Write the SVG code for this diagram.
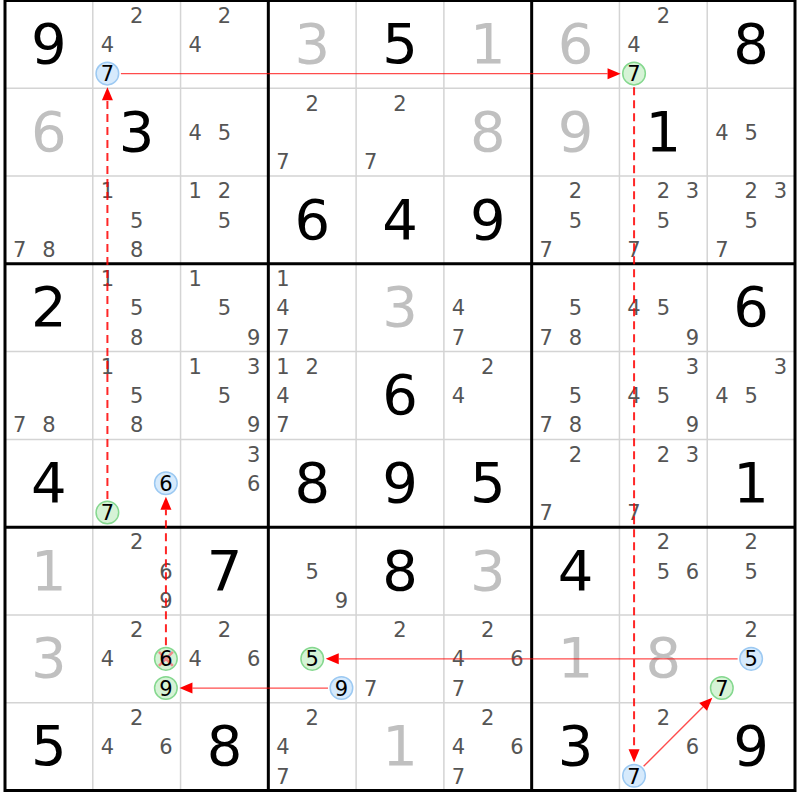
<svg xmlns="http://www.w3.org/2000/svg" width="800" height="800" viewBox="0 0 800 800">
<style>
text{font-family:"DejaVu Sans","Liberation Sans",sans-serif;text-anchor:middle}
.g{font-size:56px;fill:#000}
.s{font-size:56px;fill:#c0c0c0}
.c{font-size:21px;fill:#555}
.k{font-size:21px;fill:#000}
.thin{stroke:#d4d4d4;stroke-width:1.5}
.thick{stroke:#000;stroke-width:3;fill:none}
.cb{fill:#d6eafc;stroke:#9cc9f2;stroke-width:1.5}
.cg{fill:#d6f3d6;stroke:#85d88f;stroke-width:1.5}
.x{stroke:#f08a8a;stroke-width:2.5}
.sol{stroke:#ff0000;stroke-opacity:.7;stroke-width:1.4;fill:none;marker-end:url(#ah)}
.dash{stroke:#ff0000;stroke-opacity:.85;stroke-width:2;stroke-dasharray:8 5;fill:none;marker-end:url(#ah)}
</style>
<defs>
<marker id="ah" markerUnits="userSpaceOnUse" markerWidth="14" markerHeight="11" refX="0" refY="5.5" orient="auto" overflow="visible"><path d="M0,0L13,5.5L0,11z" fill="#f00"/></marker>
</defs>
<rect x="0" y="0" width="800" height="800" fill="#fff"/>
<g id="grid">
<path class="thin" d="M92.78,0.5V790.5M180.56,0.5V790.5M356.11,0.5V790.5M443.89,0.5V790.5M619.44,0.5V790.5M707.22,0.5V790.5M5,88.28H795M5,176.06H795M5,351.61H795M5,439.39H795M5,614.94H795M5,702.72H795"/>
<path class="thick" d="M268.33,0.5V790.5M531.67,0.5V790.5M5,263.83H795M5,527.17H795"/>
<rect class="thick" x="5" y="0.5" width="790" height="790"/>
</g>
<g id="cells">
<g id="r1c1" transform="translate(5,0.5)"><text class="g" x="43.9" y="62.5">9</text></g>
<g id="r1c2" transform="translate(92.78,0.5)"><text class="c" x="43.9" y="22.3">2</text><text class="c" x="14.6" y="51.5">4</text><circle class="cb" cx="14.6" cy="73.1" r="11.3"/><text class="k" x="14.6" y="80.8">7</text></g>
<g id="r1c3" transform="translate(180.56,0.5)"><text class="c" x="43.9" y="22.3">2</text><text class="c" x="14.6" y="51.5">4</text></g>
<g id="r1c4" transform="translate(268.33,0.5)"><text class="s" x="43.9" y="62.5">3</text></g>
<g id="r1c5" transform="translate(356.11,0.5)"><text class="g" x="43.9" y="62.5">5</text></g>
<g id="r1c6" transform="translate(443.89,0.5)"><text class="s" x="43.9" y="62.5">1</text></g>
<g id="r1c7" transform="translate(531.67,0.5)"><text class="s" x="43.9" y="62.5">6</text></g>
<g id="r1c8" transform="translate(619.44,0.5)"><text class="c" x="43.9" y="22.3">2</text><text class="c" x="14.6" y="51.5">4</text><circle class="cg" cx="14.6" cy="73.1" r="11.3"/><text class="k" x="14.6" y="80.8">7</text></g>
<g id="r1c9" transform="translate(707.22,0.5)"><text class="g" x="43.9" y="62.5">8</text></g>

<g id="r2c1" transform="translate(5,88.28)"><text class="s" x="43.9" y="62.5">6</text></g>
<g id="r2c2" transform="translate(92.78,88.28)"><text class="g" x="43.9" y="62.5">3</text></g>
<g id="r2c3" transform="translate(180.56,88.28)"><text class="c" x="14.6" y="51.5">4</text><text class="c" x="43.9" y="51.5">5</text></g>
<g id="r2c4" transform="translate(268.33,88.28)"><text class="c" x="43.9" y="22.3">2</text><text class="c" x="14.6" y="80.8">7</text></g>
<g id="r2c5" transform="translate(356.11,88.28)"><text class="c" x="43.9" y="22.3">2</text><text class="c" x="14.6" y="80.8">7</text></g>
<g id="r2c6" transform="translate(443.89,88.28)"><text class="s" x="43.9" y="62.5">8</text></g>
<g id="r2c7" transform="translate(531.67,88.28)"><text class="s" x="43.9" y="62.5">9</text></g>
<g id="r2c8" transform="translate(619.44,88.28)"><text class="g" x="43.9" y="62.5">1</text></g>
<g id="r2c9" transform="translate(707.22,88.28)"><text class="c" x="14.6" y="51.5">4</text><text class="c" x="43.9" y="51.5">5</text></g>

<g id="r3c1" transform="translate(5,176.06)"><text class="c" x="14.6" y="80.8">7</text><text class="c" x="43.9" y="80.8">8</text></g>
<g id="r3c2" transform="translate(92.78,176.06)"><text class="c" x="14.6" y="22.3">1</text><text class="c" x="43.9" y="51.5">5</text><text class="c" x="43.9" y="80.8">8</text></g>
<g id="r3c3" transform="translate(180.56,176.06)"><text class="c" x="14.6" y="22.3">1</text><text class="c" x="43.9" y="22.3">2</text><text class="c" x="43.9" y="51.5">5</text></g>
<g id="r3c4" transform="translate(268.33,176.06)"><text class="g" x="43.9" y="62.5">6</text></g>
<g id="r3c5" transform="translate(356.11,176.06)"><text class="g" x="43.9" y="62.5">4</text></g>
<g id="r3c6" transform="translate(443.89,176.06)"><text class="g" x="43.9" y="62.5">9</text></g>
<g id="r3c7" transform="translate(531.67,176.06)"><text class="c" x="43.9" y="22.3">2</text><text class="c" x="43.9" y="51.5">5</text><text class="c" x="14.6" y="80.8">7</text></g>
<g id="r3c8" transform="translate(619.44,176.06)"><text class="c" x="43.9" y="22.3">2</text><text class="c" x="73.1" y="22.3">3</text><text class="c" x="43.9" y="51.5">5</text><text class="c" x="14.6" y="80.8">7</text></g>
<g id="r3c9" transform="translate(707.22,176.06)"><text class="c" x="43.9" y="22.3">2</text><text class="c" x="73.1" y="22.3">3</text><text class="c" x="43.9" y="51.5">5</text><text class="c" x="14.6" y="80.8">7</text></g>

<g id="r4c1" transform="translate(5,263.83)"><text class="g" x="43.9" y="62.5">2</text></g>
<g id="r4c2" transform="translate(92.78,263.83)"><text class="c" x="14.6" y="22.3">1</text><text class="c" x="43.9" y="51.5">5</text><text class="c" x="43.9" y="80.8">8</text></g>
<g id="r4c3" transform="translate(180.56,263.83)"><text class="c" x="14.6" y="22.3">1</text><text class="c" x="43.9" y="51.5">5</text><text class="c" x="73.1" y="80.8">9</text></g>
<g id="r4c4" transform="translate(268.33,263.83)"><text class="c" x="14.6" y="22.3">1</text><text class="c" x="14.6" y="51.5">4</text><text class="c" x="14.6" y="80.8">7</text></g>
<g id="r4c5" transform="translate(356.11,263.83)"><text class="s" x="43.9" y="62.5">3</text></g>
<g id="r4c6" transform="translate(443.89,263.83)"><text class="c" x="14.6" y="51.5">4</text><text class="c" x="14.6" y="80.8">7</text></g>
<g id="r4c7" transform="translate(531.67,263.83)"><text class="c" x="43.9" y="51.5">5</text><text class="c" x="14.6" y="80.8">7</text><text class="c" x="43.9" y="80.8">8</text></g>
<g id="r4c8" transform="translate(619.44,263.83)"><text class="c" x="14.6" y="51.5">4</text><text class="c" x="43.9" y="51.5">5</text><text class="c" x="73.1" y="80.8">9</text></g>
<g id="r4c9" transform="translate(707.22,263.83)"><text class="g" x="43.9" y="62.5">6</text></g>

<g id="r5c1" transform="translate(5,351.61)"><text class="c" x="14.6" y="80.8">7</text><text class="c" x="43.9" y="80.8">8</text></g>
<g id="r5c2" transform="translate(92.78,351.61)"><text class="c" x="14.6" y="22.3">1</text><text class="c" x="43.9" y="51.5">5</text><text class="c" x="43.9" y="80.8">8</text></g>
<g id="r5c3" transform="translate(180.56,351.61)"><text class="c" x="14.6" y="22.3">1</text><text class="c" x="73.1" y="22.3">3</text><text class="c" x="43.9" y="51.5">5</text><text class="c" x="73.1" y="80.8">9</text></g>
<g id="r5c4" transform="translate(268.33,351.61)"><text class="c" x="14.6" y="22.3">1</text><text class="c" x="43.9" y="22.3">2</text><text class="c" x="14.6" y="51.5">4</text><text class="c" x="14.6" y="80.8">7</text></g>
<g id="r5c5" transform="translate(356.11,351.61)"><text class="g" x="43.9" y="62.5">6</text></g>
<g id="r5c6" transform="translate(443.89,351.61)"><text class="c" x="43.9" y="22.3">2</text><text class="c" x="14.6" y="51.5">4</text></g>
<g id="r5c7" transform="translate(531.67,351.61)"><text class="c" x="43.9" y="51.5">5</text><text class="c" x="14.6" y="80.8">7</text><text class="c" x="43.9" y="80.8">8</text></g>
<g id="r5c8" transform="translate(619.44,351.61)"><text class="c" x="73.1" y="22.3">3</text><text class="c" x="14.6" y="51.5">4</text><text class="c" x="43.9" y="51.5">5</text><text class="c" x="73.1" y="80.8">9</text></g>
<g id="r5c9" transform="translate(707.22,351.61)"><text class="c" x="73.1" y="22.3">3</text><text class="c" x="14.6" y="51.5">4</text><text class="c" x="43.9" y="51.5">5</text></g>

<g id="r6c1" transform="translate(5,439.39)"><text class="g" x="43.9" y="62.5">4</text></g>
<g id="r6c2" transform="translate(92.78,439.39)"><circle class="cb" cx="73.1" cy="43.9" r="11.3"/><text class="k" x="73.1" y="51.5">6</text><circle class="cg" cx="14.6" cy="73.1" r="11.3"/><text class="k" x="14.6" y="80.8">7</text></g>
<g id="r6c3" transform="translate(180.56,439.39)"><text class="c" x="73.1" y="22.3">3</text><text class="c" x="73.1" y="51.5">6</text></g>
<g id="r6c4" transform="translate(268.33,439.39)"><text class="g" x="43.9" y="62.5">8</text></g>
<g id="r6c5" transform="translate(356.11,439.39)"><text class="g" x="43.9" y="62.5">9</text></g>
<g id="r6c6" transform="translate(443.89,439.39)"><text class="g" x="43.9" y="62.5">5</text></g>
<g id="r6c7" transform="translate(531.67,439.39)"><text class="c" x="43.9" y="22.3">2</text><text class="c" x="14.6" y="80.8">7</text></g>
<g id="r6c8" transform="translate(619.44,439.39)"><text class="c" x="43.9" y="22.3">2</text><text class="c" x="73.1" y="22.3">3</text><text class="c" x="14.6" y="80.8">7</text></g>
<g id="r6c9" transform="translate(707.22,439.39)"><text class="g" x="43.9" y="62.5">1</text></g>

<g id="r7c1" transform="translate(5,527.17)"><text class="s" x="43.9" y="62.5">1</text></g>
<g id="r7c2" transform="translate(92.78,527.17)"><text class="c" x="43.9" y="22.3">2</text><text class="c" x="73.1" y="51.5">6</text><text class="c" x="73.1" y="80.8">9</text></g>
<g id="r7c3" transform="translate(180.56,527.17)"><text class="g" x="43.9" y="62.5">7</text></g>
<g id="r7c4" transform="translate(268.33,527.17)"><text class="c" x="43.9" y="51.5">5</text><text class="c" x="73.1" y="80.8">9</text></g>
<g id="r7c5" transform="translate(356.11,527.17)"><text class="g" x="43.9" y="62.5">8</text></g>
<g id="r7c6" transform="translate(443.89,527.17)"><text class="s" x="43.9" y="62.5">3</text></g>
<g id="r7c7" transform="translate(531.67,527.17)"><text class="g" x="43.9" y="62.5">4</text></g>
<g id="r7c8" transform="translate(619.44,527.17)"><text class="c" x="43.9" y="22.3">2</text><text class="c" x="43.9" y="51.5">5</text><text class="c" x="73.1" y="51.5">6</text></g>
<g id="r7c9" transform="translate(707.22,527.17)"><text class="c" x="43.9" y="22.3">2</text><text class="c" x="43.9" y="51.5">5</text></g>

<g id="r8c1" transform="translate(5,614.94)"><text class="s" x="43.9" y="62.5">3</text></g>
<g id="r8c2" transform="translate(92.78,614.94)"><text class="c" x="43.9" y="22.3">2</text><text class="c" x="14.6" y="51.5">4</text><circle class="cg" cx="73.1" cy="43.9" r="11.3"/><path class="x" d="M66.1,36.9L80.1,50.9M80.1,36.9L66.1,50.9"/><text class="k" x="73.1" y="51.5">6</text><circle class="cg" cx="73.1" cy="73.1" r="11.3"/><text class="k" x="73.1" y="80.8">9</text></g>
<g id="r8c3" transform="translate(180.56,614.94)"><text class="c" x="43.9" y="22.3">2</text><text class="c" x="14.6" y="51.5">4</text><text class="c" x="73.1" y="51.5">6</text></g>
<g id="r8c4" transform="translate(268.33,614.94)"><circle class="cg" cx="43.9" cy="43.9" r="11.3"/><text class="k" x="43.9" y="51.5">5</text><circle class="cb" cx="73.1" cy="73.1" r="11.3"/><text class="k" x="73.1" y="80.8">9</text></g>
<g id="r8c5" transform="translate(356.11,614.94)"><text class="c" x="43.9" y="22.3">2</text><text class="c" x="14.6" y="80.8">7</text></g>
<g id="r8c6" transform="translate(443.89,614.94)"><text class="c" x="43.9" y="22.3">2</text><text class="c" x="14.6" y="51.5">4</text><text class="c" x="73.1" y="51.5">6</text><text class="c" x="14.6" y="80.8">7</text></g>
<g id="r8c7" transform="translate(531.67,614.94)"><text class="s" x="43.9" y="62.5">1</text></g>
<g id="r8c8" transform="translate(619.44,614.94)"><text class="s" x="43.9" y="62.5">8</text></g>
<g id="r8c9" transform="translate(707.22,614.94)"><text class="c" x="43.9" y="22.3">2</text><circle class="cb" cx="43.9" cy="43.9" r="11.3"/><text class="k" x="43.9" y="51.5">5</text><circle class="cg" cx="14.6" cy="73.1" r="11.3"/><text class="k" x="14.6" y="80.8">7</text></g>

<g id="r9c1" transform="translate(5,702.72)"><text class="g" x="43.9" y="62.5">5</text></g>
<g id="r9c2" transform="translate(92.78,702.72)"><text class="c" x="43.9" y="22.3">2</text><text class="c" x="14.6" y="51.5">4</text><text class="c" x="73.1" y="51.5">6</text></g>
<g id="r9c3" transform="translate(180.56,702.72)"><text class="g" x="43.9" y="62.5">8</text></g>
<g id="r9c4" transform="translate(268.33,702.72)"><text class="c" x="43.9" y="22.3">2</text><text class="c" x="14.6" y="51.5">4</text><text class="c" x="14.6" y="80.8">7</text></g>
<g id="r9c5" transform="translate(356.11,702.72)"><text class="s" x="43.9" y="62.5">1</text></g>
<g id="r9c6" transform="translate(443.89,702.72)"><text class="c" x="43.9" y="22.3">2</text><text class="c" x="14.6" y="51.5">4</text><text class="c" x="73.1" y="51.5">6</text><text class="c" x="14.6" y="80.8">7</text></g>
<g id="r9c7" transform="translate(531.67,702.72)"><text class="g" x="43.9" y="62.5">3</text></g>
<g id="r9c8" transform="translate(619.44,702.72)"><text class="c" x="43.9" y="22.3">2</text><text class="c" x="73.1" y="51.5">6</text><circle class="cb" cx="14.6" cy="73.1" r="11.3"/><text class="k" x="14.6" y="80.8">7</text></g>
<g id="r9c9" transform="translate(707.22,702.72)"><text class="g" x="43.9" y="62.5">9</text></g>
</g>
<g id="connectors">
<line class="dash" x1="165.93" y1="645.33" x2="165.93" y2="509.78"/>
<line class="dash" x1="107.41" y1="499.04" x2="107.41" y2="100.15"/>
<line class="sol" x1="120.91" y1="73.65" x2="607.57" y2="73.65"/>
<line class="dash" x1="634.07" y1="87.15" x2="634.07" y2="749.37"/>
<line class="sol" x1="643.62" y1="766.32" x2="703.11" y2="706.83"/>
<line class="sol" x1="737.61" y1="658.83" x2="338.72" y2="658.83"/>
<line class="sol" x1="327.98" y1="688.09" x2="192.43" y2="688.09"/>
</g>
</svg>
